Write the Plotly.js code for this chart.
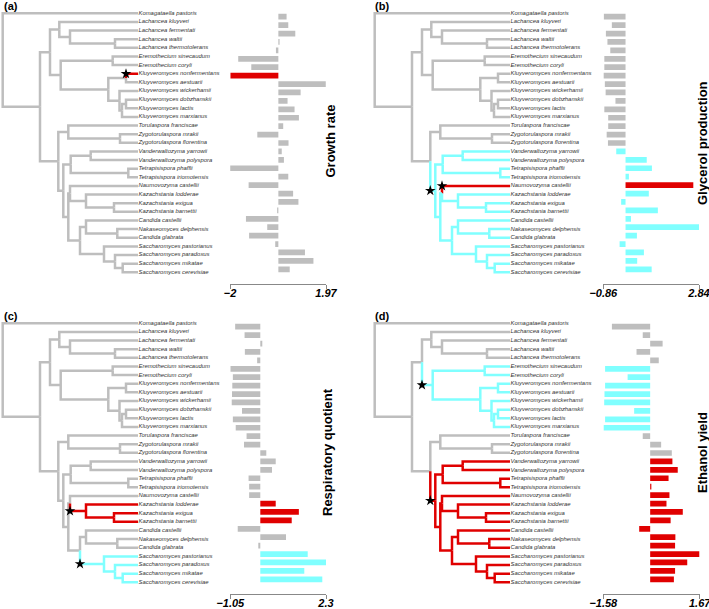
<!DOCTYPE html>
<html><head><meta charset="utf-8">
<script src="https://cdn.plot.ly/plotly-3.0.1.min.js"></script>
<style>html,body{margin:0;padding:0;background:#fff}#chart{width:709px;height:609px}</style>
</head><body><div id="chart"></div>
<script>
const species = ["Komagataella pastoris","Lachancea kluyveri","Lachancea fermentati","Lachancea waltii","Lachancea thermotolerans","Eremothecium sinecaudum","Eremothecium coryli","Kluyveromyces nonfermentans","Kluyveromyces aestuarii","Kluyveromyces wickerhamii","Kluyveromyces dobzhanskii","Kluyveromyces lactis","Kluyveromyces marxianus","Torulaspora franciscae","Zygotorulaspora mrakii","Zygotorulaspora florentina","Vanderwaltozyma yarrowii","Vanderwaltozyma polyspora","Tetrapisispora phaffii","Tetrapisispora iriomotensis","Naumovozyma castellii","Kazachstania lodderae","Kazachstania exigua","Kazachstania barnettii","Candida castellii","Nakaseomyces delphensis","Candida glabrata","Saccharomyces pastorianus","Saccharomyces paradoxus","Saccharomyces mikatae","Saccharomyces cerevisiae"];

const growthRate = [0.34,0.41,0.70,0.05,-0.10,-1.66,-1.12,-1.98,1.96,0.92,0.38,0.67,0.85,0.20,-0.87,0.42,0.14,0.23,-1.99,0.41,-1.23,0.61,0.83,-0.05,-1.34,-0.46,-1.21,-0.13,1.10,1.45,0.47];
const glycerolProduction = [-0.84,-0.53,-0.76,-0.70,-0.59,-0.82,-0.82,-0.85,-0.80,-0.77,-0.39,-0.82,-0.67,-0.67,-0.73,-0.68,-0.36,0.82,1.02,0.13,2.62,0.90,-0.17,1.25,0.21,2.84,0.44,-0.23,0.71,0.45,1.01];
const respiratoryQuotient = [-0.88,-0.55,0.07,-0.54,-0.11,-1.05,-0.96,-0.98,-0.99,-1.00,-0.64,-0.96,-0.86,-0.48,-0.57,0.21,0.54,0.41,-0.41,-0.39,-0.39,0.54,1.35,1.10,-0.79,0.90,-0.07,1.66,2.30,1.54,2.17];
const ethanolYield = [-1.29,-0.25,0.42,-0.46,0.29,-1.52,-0.76,-1.52,-1.54,-1.55,-0.54,-1.52,-1.57,-0.25,0.37,0.73,0.75,0.93,0.62,0.04,0.65,0.55,1.10,0.69,-0.37,0.85,0.84,1.66,1.25,0.84,0.80];

const axisTickValues = [[-2,1.97],[-0.86,2.84],[-1.05,2.3],[-1.58,1.67]];
const axisTickLabels = [["\u22122","1.97"],["\u22120.86","2.84"],["\u22121.05","2.3"],["\u22121.58","1.67"]];
const traitTitles = ["Growth rate","Glycerol production","Respiratory quotient","Ethanol yield"];
const panelLetters = ["(a)","(b)","(c)","(d)"];

// tree: internal nodes (children are node names or tip rows 1..31), depth = branch position
const nodeNames    = ["root","A","KLE","Lach","Lfwt","Lwt","EK","Erem","Kluy","NA","X1","X2","X3","B","TZ","Zygo","R","VT","Vander","Tetra","NKCS","NK","Kaz","EB","CS","C","ND","S","S2","S3"];
const nodeDepth    = [2.7,40,50,59.3,70,115,60.7,112.7,108.3,126,119.5,122,126,58.3,68.3,120,63.3,70.7,90.7,128.3,68.3,70,86,114,80,86,117.3,104,115,122.7];
const nodeChildren = [[1,"A"],["KLE","B"],["Lach","EK"],[2,"Lfwt"],[3,"Lwt"],[4,5],["Erem","Kluy"],[6,7],["NA","X1"],[8,9],[10,"X2"],["X3",13],[11,12],["TZ","R"],[14,"Zygo"],[15,16],["VT","NKCS"],["Vander","Tetra"],[17,18],[19,20],["NK","CS"],[21,"Kaz"],[22,"EB"],[23,24],["C","S"],[25,"ND"],[26,27],[28,"S2"],[29,"S3"],[30,31]];
const tipDepth = 138;

// highlighted clades per panel (clade key, colour name)
const highlights = [
  [[8,"red"]],
  [["R","cyan"],[21,"red"]],
  [["Kaz","red"],["S","cyan"]],
  [["EK","cyan"],["R","red"]]
];

const COL = {gray:"#BEBEBE", red:"#E00000", cyan:"#80FFFF"};
const W = 709, H = 609;
const FONT = "Liberation Sans, Arial, sans-serif";

const pos = {};
function place(key){
  if (typeof key === "number") { pos[key] = {x: tipDepth, y: key}; return pos[key]; }
  const i = nodeNames.indexOf(key);
  const ys = nodeChildren[i].map(c => place(c).y);
  pos[key] = {x: nodeDepth[i], y: (ys[0] + ys[ys.length-1]) / 2};
  return pos[key];
}
place("root");
function descendants(key, out){
  out.push(key);
  if (typeof key !== "number") nodeChildren[nodeNames.indexOf(key)].forEach(c => descendants(c, out));
  return out;
}
const edges = [];
nodeNames.forEach((n, i) => nodeChildren[i].forEach(c => edges.push({p: n, c: c})));

const panels = [
  {vals: growthRate, ox: 0,   oy: 0,   bx: [230, 326],     axisY: 284, tx: 330, ty: 141.5},
  {vals: glycerolProduction, ox: 372, oy: 0, bx: [603.3, 699], axisY: 284, tx: 702, ty: 143},
  {vals: respiratoryQuotient, ox: 0, oy: 310, bx: [230.3, 326], axisY: 594, tx: 327, ty: 452},
  {vals: ethanolYield, ox: 372, oy: 310, bx: [603.3, 699.7], axisY: 594, tx: 702, ty: 453}
];

const data = [];
const layout = {
  width: W, height: H, margin: {l:0, r:0, t:0, b:0},
  paper_bgcolor: "#fff", plot_bgcolor: "rgba(0,0,0,0)",
  showlegend: false, annotations: [], font: {family: FONT}
};
const rows = species.map((s, i) => i + 1);

panels.forEach((P, k) => {
  const tA = 2*k + 1, bA = 2*k + 2;
  const txk = "x" + tA, tyk = "y" + tA, bxk = "x" + bA, byk = "y" + bA;
  const nm = n => n === 1 ? "" : n;
  const edgeColor = {};
  edges.forEach(e => edgeColor[e.c] = "gray");
  const stars = [];
  highlights[k].forEach(([clade, col]) => {
    descendants(clade, []).forEach(d => edgeColor[d] = col);
    const e = edges.find(e => e.c === clade);
    stars.push({x: pos[e.p].x, y: pos[clade].y});
  });
  ["gray","red","cyan"].forEach(col => {
    const xs = [], ys = [];
    edges.forEach(e => {
      if (edgeColor[e.c] !== col) return;
      const p = pos[e.p], c = pos[e.c];
      xs.push(p.x, p.x, c.x, null); ys.push(p.y, c.y, c.y, null);
    });
    if (xs.length) data.push({type: "scatter", mode: "lines", x: xs, y: ys, xaxis: txk, yaxis: tyk,
      line: {color: COL[col], width: 2.5}, hoverinfo: "skip", cliponaxis: false});
  });
  data.push({type: "scatter", mode: "markers", x: stars.map(s => s.x), y: stars.map(s => s.y),
    xaxis: txk, yaxis: tyk, marker: {symbol: "star", size: 8, color: "#000"}, hoverinfo: "skip", cliponaxis: false});
  data.push({type: "scatter", mode: "text", x: rows.map(() => tipDepth + 0.5), y: rows, text: species,
    textposition: "middle right", xaxis: txk, yaxis: tyk, cliponaxis: false, hoverinfo: "skip",
    textfont: {family: FONT, size: 5.9, style: "italic", color: "#333"}});
  data.push({type: "bar", orientation: "h", x: P.vals, y: rows, xaxis: bxk, yaxis: byk, width: 0.68,
    marker: {color: rows.map(r => COL[edgeColor[r]]), line: {width: 0}}, hoverinfo: "x"});

  layout["xaxis" + nm(tA)] = {domain: [P.ox / W, (P.ox + 230) / W], range: [0, 230], visible: false, anchor: tyk, fixedrange: true};
  layout["yaxis" + nm(tA)] = {domain: [1 - (P.oy + 276.6) / H, 1 - (P.oy + 9.0) / H], range: [31.5, 0.5], visible: false, anchor: txk, fixedrange: true};
  layout["xaxis" + nm(bA)] = {domain: [P.bx[0] / W, P.bx[1] / W], range: axisTickValues[k], anchor: "free",
    position: 1 - P.axisY / H, showline: true, linecolor: "#888", linewidth: 1, ticks: "outside", ticklen: 4,
    tickcolor: "#888", tickwidth: 1, tickvals: axisTickValues[k], ticktext: axisTickLabels[k], showgrid: false,
    zeroline: false, ticklabelstandoff: -5, ticklabeloverflow: "allow",
    tickfont: {family: FONT, size: 11, weight: "bold", style: "italic", color: "#000"}, fixedrange: true};
  layout["yaxis" + nm(bA)] = {domain: [1 - (P.oy + 273.5) / H, 1 - (P.oy + 12.5) / H], range: [31.5, 0.5], visible: false, anchor: bxk, fixedrange: true};

  layout.annotations.push({xref: "paper", yref: "paper", x: P.tx / W, y: 1 - P.ty / H, text: traitTitles[k],
    textangle: -90, showarrow: false, xanchor: "center", yanchor: "middle",
    font: {family: FONT, size: 13, weight: "bold", color: "#000"}});
  layout.annotations.push({xref: "paper", yref: "paper", x: (P.ox + 1.5) / W, y: 1 - (P.oy + 6) / H, text: panelLetters[k],
    showarrow: false, xanchor: "left", yanchor: "middle",
    font: {family: FONT, size: 11, weight: "bold", color: "#000"}});
});

Plotly.newPlot("chart", data, layout, {displayModeBar: false, staticPlot: true});
</script>
</body></html>
